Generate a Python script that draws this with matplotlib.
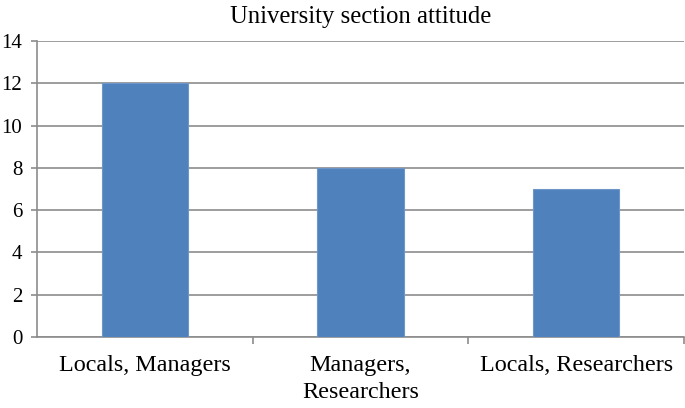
#import libraries
import matplotlib.pyplot as plt

#Data Definition
categories = ['Locals, Managers', 'Managers,\nResearchers', 'Locals, Researchers']
values = [12, 8, 7]
yticks = [0, 2, 4, 6, 8, 10, 12, 14]

plt.rcParams['font.family'] = ['Liberation Serif', 'DejaVu Serif']

#Create Figure
fig = plt.figure(figsize=(6.85, 4.08), dpi=100)
ax = fig.add_axes([0.054, 0.174, 0.9445, 0.7255])

#Create Plot
xs = range(len(categories))
ax.bar(xs, values, width=0.4, color='#4F81BD', edgecolor='#6F96C8', linewidth=0.8, zorder=3)

#Modify figure's appearance
ax.set_xlim(-0.5, len(categories) - 0.5)
ax.set_ylim(0, 14)
ax.set_yticks(yticks)
ax.yaxis.grid(True, color='#8c8c8c', linewidth=1.2, zorder=0)
ax.set_xticks(list(xs))
ax.set_xticklabels(categories, fontsize=17.4, linespacing=1.35)
ax.set_xticks([0.5, 1.5, 2.5], minor=True)
ax.tick_params(axis='x', which='major', length=0, pad=13)
ax.tick_params(axis='x', which='minor', length=5, color='#8c8c8c', width=1.2)
ax.tick_params(axis='y', labelsize=15, length=4.5, color='#8c8c8c', width=1.2, pad=6)
for s in ['top', 'right']:
    ax.spines[s].set_visible(False)
for s in ['left', 'bottom']:
    ax.spines[s].set_color('#8c8c8c')
    ax.spines[s].set_linewidth(1.2)
ax.set_title('University section attitude', fontsize=17.8, pad=13)

#Save Plot
plt.savefig('out.png', dpi=100)
